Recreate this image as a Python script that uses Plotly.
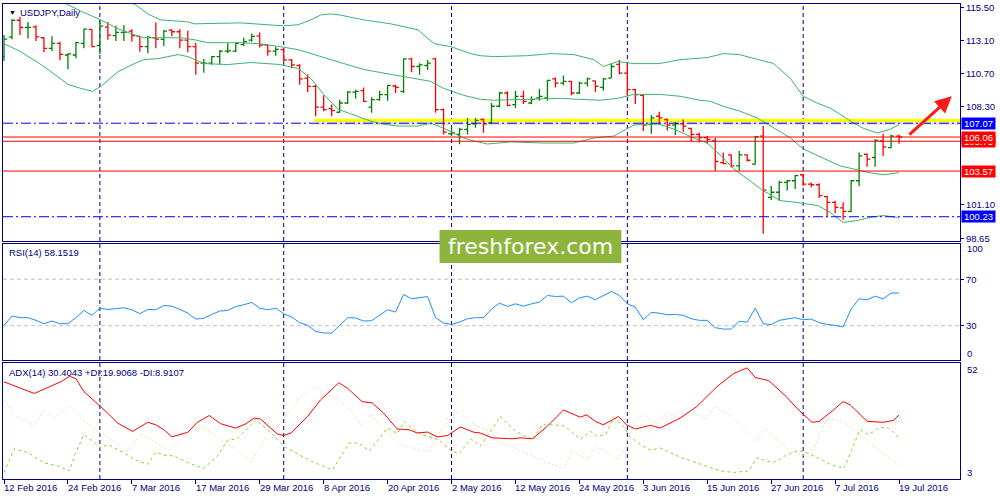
import plotly.graph_objects as go
from plotly.subplots import make_subplots

# daily bars, index 0 = 12 Feb 2016 ... 112 = 19 Jul 2016 (weekdays)
open_ = [111.94, 113.37, 114.60, 114.07, 114.12, 113.32, 112.55, 112.91, 112.06, 112.06,
         112.91, 113.93, 112.74, 114.10, 113.47, 113.71, 113.81, 113.42, 112.67, 113.32,
         113.20, 113.88, 113.76, 113.15, 112.67, 111.46, 111.46, 111.94, 112.35, 112.35,
         112.84, 113.15, 113.44, 112.79, 112.35, 112.45, 111.70, 111.29, 110.37, 109.76,
         108.24, 108.14, 107.87, 108.55, 109.35, 109.45, 108.24, 108.79, 109.16, 109.79,
         109.40, 111.77, 111.22, 111.29, 111.77, 108.07, 106.30, 106.25, 106.62, 107.03,
         107.34, 107.10, 108.31, 109.28, 108.43, 109.04, 108.55, 108.92, 108.92, 110.32,
         110.00, 110.13, 109.28, 110.00, 110.17, 109.69, 110.37, 111.38, 110.73, 109.52,
         109.11, 106.98, 107.58, 107.34, 106.93, 107.03, 106.69, 106.25, 106.01, 105.77,
         104.19, 104.75, 103.95, 104.75, 104.07, 106.13, 101.65, 102.02, 102.74, 102.86,
         103.30, 102.62, 102.57, 101.70, 101.28, 100.87, 100.62, 102.86, 104.80, 104.56,
         105.77, 105.28, 106.13]
high = [113.52, 114.68, 114.85, 114.48, 114.24, 113.34, 113.44, 113.03, 112.18, 113.03,
        114.00, 113.95, 114.60, 114.48, 114.19, 114.24, 113.95, 113.44, 113.47, 114.43,
        113.88, 113.95, 113.95, 113.83, 112.96, 111.77, 111.99, 112.43, 112.91, 112.98,
        113.32, 113.64, 113.71, 112.84, 112.67, 112.55, 111.77, 111.38, 110.66, 109.88,
        109.11, 108.43, 108.79, 109.40, 109.52, 109.69, 108.96, 109.45, 109.88, 109.88,
        111.82, 111.86, 111.46, 111.70, 111.86, 108.14, 106.86, 106.74, 107.46, 107.46,
        107.41, 108.55, 109.35, 109.40, 109.45, 109.45, 109.04, 109.59, 110.25, 110.42,
        110.56, 110.17, 110.13, 110.42, 110.17, 110.37, 111.46, 111.70, 111.46, 109.59,
        109.16, 107.66, 107.90, 107.41, 107.17, 107.34, 106.74, 106.37, 106.13, 106.01,
        104.92, 104.80, 105.04, 104.80, 106.13, 106.86, 102.50, 102.86, 102.91, 103.30,
        103.35, 102.74, 102.67, 101.77, 101.40, 101.28, 102.91, 104.92, 104.85, 105.89,
        106.30, 106.25, 106.25]
low = [111.63, 113.22, 113.52, 113.27, 113.08, 112.26, 112.35, 111.68, 111.02, 111.82,
       112.55, 112.62, 112.14, 113.18, 113.08, 113.08, 113.03, 112.30, 112.18, 112.55,
       112.72, 113.44, 112.55, 112.26, 110.61, 110.76, 111.34, 111.34, 112.18, 112.26,
       112.72, 113.03, 112.60, 112.01, 112.01, 111.53, 111.09, 109.88, 109.35, 107.58,
       107.95, 107.58, 107.83, 108.48, 108.87, 108.63, 107.83, 108.72, 108.72, 109.28,
       109.28, 110.80, 110.61, 110.97, 107.83, 106.25, 106.13, 105.53, 106.25, 106.74,
       106.37, 107.03, 108.24, 108.31, 108.19, 108.48, 108.48, 108.72, 108.72, 109.69,
       109.84, 109.11, 109.21, 109.76, 109.35, 109.45, 110.37, 110.66, 109.04, 108.48,
       106.50, 106.30, 107.03, 106.54, 106.20, 106.45, 105.77, 105.65, 105.57, 103.59,
       104.07, 103.83, 103.59, 104.27, 104.03, 98.99, 101.45, 101.40, 102.14, 102.26,
       102.50, 102.38, 101.60, 100.20, 100.49, 100.00, 100.55, 102.45, 103.88, 103.88,
       104.68, 105.24, 105.57]
close = [113.22, 114.60, 114.07, 114.08, 113.39, 112.55, 112.91, 112.11, 112.14, 112.96,
         113.95, 112.67, 114.17, 113.52, 113.71, 113.73, 113.47, 112.67, 113.35, 113.22,
         113.81, 113.76, 113.15, 112.67, 111.46, 111.47, 111.94, 112.35, 112.36, 112.91,
         113.03, 113.42, 112.79, 112.35, 112.47, 111.70, 111.34, 110.32, 109.76, 108.24,
         108.07, 107.99, 108.55, 109.35, 109.40, 108.67, 108.79, 109.16, 109.84, 109.69,
         111.77, 111.22, 111.34, 111.46, 108.07, 106.42, 106.37, 106.62, 106.98, 107.27,
         107.03, 108.31, 109.28, 108.38, 109.04, 108.67, 108.79, 109.04, 110.20, 110.00,
         110.13, 109.28, 110.00, 110.32, 109.76, 110.32, 111.22, 110.73, 109.52, 109.16,
         106.93, 107.46, 107.46, 106.93, 107.03, 106.86, 106.25, 106.01, 105.89, 104.27,
         104.12, 103.95, 104.75, 104.36, 106.08, 102.18, 102.02, 102.74, 102.86, 103.23,
         102.62, 102.57, 101.77, 101.28, 100.92, 100.62, 102.86, 104.68, 104.44, 105.82,
         105.34, 106.13, 106.06]
bars = list(range(len(close)))

# Bollinger bands (20,2): bar index -> price
bb_up_x = [14, 16.5, 18, 19.6, 23, 23.8, 29.6, 35, 36.8, 38.4, 39.6, 40.9, 42, 45, 48.4,
           51.8, 53.8, 55.9, 58.4, 59.6, 61.3, 65.5, 68.4, 71.3, 73.8, 75, 76.8, 78.8, 82,
           84.6, 88, 90, 92, 94.3, 96.3, 98.4, 100, 101.8, 103.4, 105, 106.3, 107.5, 109.3,
           110.9, 112]
bb_up_y = [116.4, 115.72, 115.06, 114.63, 114.48, 114.34, 114.41, 114.19, 114.27, 114.63,
           114.99, 115.06, 114.99, 114.63, 114.34, 113.90, 112.89, 112.67, 112.16, 112.01,
           111.94, 112.01, 112.16, 112.09, 111.72, 111.22, 111.58, 111.43, 111.43, 111.72,
           111.87, 112.16, 112.09, 111.72, 111.43, 110.34, 109.04, 108.53, 108.17, 107.58,
           107.08, 106.71, 106.35, 106.64, 106.95]
bb_mid_x = [5, 8, 9.6, 12.1, 14.3, 16.3, 17.5, 20.5, 22.1, 23.8, 25.5, 29.6, 31.8, 34.6,
            36.8, 40.9, 45, 47.1, 50, 53.4, 55, 57.5, 59.6, 61.3, 65.5, 69.6, 71.8, 74.6,
            76.8, 78.8, 82, 84.6, 87.1, 88.4, 90, 92.1, 94.3, 96.3, 98.4, 100, 102.5, 104.6,
            106.8, 108.4, 110, 111.3, 112]
bb_mid_y = [116.6, 115.72, 115.28, 114.63, 113.97, 113.54, 113.32, 113.32, 113.32, 113.18,
            112.96, 112.96, 112.89, 112.67, 112.45, 111.72, 111.00, 110.78, 110.49, 110.13,
            109.62, 109.11, 108.82, 108.75, 108.82, 108.89, 108.82, 108.75, 108.89, 109.18,
            109.18, 109.04, 108.75, 108.67, 108.31, 107.95, 107.44, 106.71, 105.99, 105.19,
            104.53, 103.95, 103.66, 103.44, 103.30, 103.37, 103.45]
bb_lo_x = [0, 2.1, 5, 8, 9.6, 11.1, 12.1, 14.3, 16.3, 17.5, 19.3, 21.8, 23, 25, 28, 29.6,
           30.9, 34.6, 36.8, 38.4, 40, 41.8, 44.3, 45.9, 47.5, 49.3, 51.8, 53.4, 55, 57.5,
           58.8, 60.5, 63.4, 67.5, 71.3, 73.8, 76.3, 78, 78.8, 80.5, 82, 83.8, 86.3, 88, 90,
           91.3, 93.4, 95, 97.1, 99.3, 101.8, 103.4, 105, 106.8, 108.4, 110, 111.8, 112]
bb_lo_y = [112.89, 112.30, 111.22, 109.91, 109.62, 109.40, 109.76, 110.85, 111.43, 111.72,
           111.80, 112.09, 111.94, 111.43, 111.36, 111.43, 111.51, 111.36, 111.07, 110.34,
           109.18, 108.09, 107.58, 107.22, 107.00, 106.86, 106.86, 107.08, 106.71, 105.99,
           105.77, 105.55, 105.70, 105.62, 105.62, 105.99, 106.13, 106.64, 106.93, 107.00,
           107.00, 106.64, 105.99, 105.62, 104.53, 103.74, 102.86, 102.14, 101.41, 101.27,
           101.05, 100.54, 99.81, 99.96, 100.18, 100.32, 100.18, 100.10]

# RSI(14), one value per bar
rsi = [30.3, 38.3, 36.9, 36.9, 34.6, 31.7, 34.0, 31.7, 31.7, 36.9,
       43.1, 38.9, 45.1, 44.0, 44.6, 45.4, 43.7, 40.3, 44.0, 43.7,
       47.4, 46.8, 44.0, 40.8, 35.7, 36.4, 39.7, 42.6, 43.1, 46.5,
       48.0, 50.0, 45.1, 43.7, 45.1, 40.3, 37.4, 32.6, 30.3, 25.1,
       23.7, 23.7, 30.3, 36.9, 36.6, 34.0, 34.3, 38.9, 43.7, 41.7,
       56.8, 53.1, 54.0, 55.1, 36.9, 32.3, 31.1, 33.1, 36.0, 36.9,
       36.9, 44.3, 49.4, 46.6, 48.8, 46.8, 48.8, 50.3, 56.0, 55.1,
       55.4, 49.7, 54.0, 55.4, 52.3, 56.0, 59.4, 56.0, 48.8, 46.0,
       35.1, 41.4, 40.8, 39.4, 39.7, 38.9, 36.0, 34.6, 34.6, 28.3,
       27.1, 27.1, 33.7, 33.1, 45.1, 31.7, 30.9, 34.6, 35.7, 36.9,
       35.1, 35.7, 32.6, 31.1, 30.3, 28.9, 44.3, 53.1, 52.3, 55.4,
       53.1, 58.0, 58.15]
rsi_levels = [70, 30]

# ADX(14) with +DI / -DI
adx_x = [0, 1.7, 3.8, 5.9, 7.1, 8.2, 9, 10, 11.1, 12, 13, 14.2, 16.1, 18, 19, 20, 21, 23,
         24.2, 25.7, 27.1, 29, 30.3, 31.3, 32.1, 34.2, 35, 35.9, 38, 39.6, 41.9, 43, 44.8,
         46.1, 47.5, 49.2, 50.7, 51.7, 53, 54.2, 55.5, 57.1, 58.8, 59.6, 61.1, 63.6, 64.6,
         66.1, 68, 70, 72.1, 72.9, 74, 75, 76.9, 77.9, 79, 80.9, 82.1, 84.6, 86.7, 89.2,
         91.3, 93, 94, 95.7, 97.9, 99.2, 101.1, 102, 103.8, 105, 105.9, 108, 110, 111.3, 112]
adx_y = [44.6, 42.5, 39.6, 42.8, 44.6, 47.0, 46.0, 40.4, 36.8, 34.2, 31.1, 26.9, 23.3, 27.2,
         26.1, 24.0, 20.9, 22.9, 27.2, 30.1, 26.6, 24.7, 26.6, 29.0, 28.6, 22.2, 21.5, 22.6,
         29.7, 36.8, 44.2, 41.8, 36.1, 35.5, 31.1, 24.3, 24.0, 22.6, 23.0, 20.9, 21.5, 25.2,
         22.9, 22.6, 20.5, 20.1, 20.5, 20.1, 25.5, 32.5, 29.4, 30.4, 27.6, 26.1, 29.7, 26.1,
         24.3, 25.9, 24.7, 29.0, 34.0, 42.5, 48.2, 50.6, 46.5, 45.1, 38.2, 33.3, 27.2, 27.6,
         32.5, 36.1, 34.7, 27.6, 27.2, 28.0, 30.40]
pdi_x = [0, 1.3, 3, 5, 6.7, 8.2, 8.8, 10, 11.1, 12, 13, 15, 16.3, 18, 19, 20, 21.3, 23, 25,
         26.7, 28, 29.2, 31.5, 32.5, 33.4, 35, 36.3, 38.4, 41.1, 43.2, 44.4, 45.7, 47.1, 48,
         49.2, 50.1, 51.3, 52.3, 53.8, 54.6, 55.9, 56.9, 58.4, 59.6, 60.9, 62.1, 63.8, 65,
         66.3, 67.3, 68.8, 70.2, 72.1, 73.4, 74.2, 75.3, 76.3, 77.5, 78.2, 79.6, 80.9, 82.1,
         84.6, 87.1, 89.6, 91.3, 93.2, 94.2, 96.3, 97.9, 99.4, 100.9, 103.4, 105.1, 105.9,
         107.1, 108.2, 109.6, 110.7, 111.5, 112]
pdi_y = [5.6, 15.8, 14.1, 9.8, 8.4, 6.3, 12.7, 21.9, 19.1, 16.2, 17.6, 14.1, 11.2, 9.1,
         14.4, 13.1, 12.7, 9.8, 7.3, 12.7, 19.5, 20.1, 28.3, 25.5, 22.6, 16.9, 14.4, 10.5,
         6.7, 18.3, 18.3, 14.8, 20.9, 24.7, 22.3, 27.6, 24.0, 21.9, 20.5, 19.1, 15.2, 13.5,
         20.1, 17.0, 23.3, 29.7, 24.0, 21.5, 19.8, 26.1, 26.1, 25.5, 19.8, 23.3, 21.2, 22.0,
         29.3, 25.5, 21.5, 17.6, 15.2, 16.2, 12.2, 9.1, 6.3, 5.6, 6.3, 11.9, 9.8, 13.1, 15.2,
         13.5, 9.1, 7.3, 14.1, 24.0, 21.9, 25.0, 24.7, 22.3, 19.91]
mdi_x = [0, 1.3, 3.8, 5, 6.3, 8.2, 9.6, 11.7, 13.4, 15.5, 17.1, 19.2, 20.5, 22.1, 24.2,
         25.9, 28.4, 30.9, 33, 34.2, 35.9, 37.1, 39.2, 40, 40.9, 43.4, 44.6, 45.9, 47.5,
         49.6, 51.7, 53.2, 54.6, 55.7, 57.1, 58.8, 60.9, 62.1, 63.8, 65.9, 68, 70.1, 71.1,
         72.1, 73.2, 74, 75.5, 76.9, 77.9, 78.8, 80, 81.3, 83, 84.6, 86.3, 87.9, 88.9, 91.3,
         94, 95.3, 97.1, 98.8, 100.9, 103, 105, 107.1, 109.6, 112]
mdi_y = [36.8, 30.4, 25.7, 32.5, 29.0, 34.2, 29.0, 23.3, 19.8, 14.8, 22.3, 18.3, 14.8, 19.8,
         26.1, 22.6, 16.9, 10.1, 21.9, 24.7, 32.5, 38.2, 42.5, 38.2, 38.9, 32.5, 26.1, 30.4,
         24.0, 17.6, 15.5, 14.4, 23.3, 29.7, 31.8, 26.1, 23.3, 18.3, 16.2, 13.1, 9.8, 7.3,
         14.8, 12.7, 11.5, 16.9, 14.1, 11.2, 18.3, 26.1, 31.1, 26.6, 31.1, 29.0, 31.5, 28.3,
         34.0, 29.0, 19.1, 24.7, 18.3, 14.4, 12.2, 29.0, 27.6, 21.9, 14.8, 8.91]

# drawn levels
blue_levels = [107.07, 100.23]
red_levels = [106.06, 105.75, 103.57]
zone_lo, zone_hi, zone_start = 107.15, 107.40, 38.75
arrow_from = (113.1, 106.13)
arrow_to = (118.6, 109.04)

price_ticks = [115.50, 113.10, 110.70, 108.30, 101.10, 98.65]
date_idx = [0, 8, 16, 24, 32, 40, 48, 56, 64, 72, 80, 88, 96, 104, 112]
date_labels = ["12 Feb 2016", "24 Feb 2016", "7 Mar 2016", "17 Mar 2016", "29 Mar 2016",
               "8 Apr 2016", "20 Apr 2016", "2 May 2016", "12 May 2016", "24 May 2016",
               "3 Jun 2016", "15 Jun 2016", "27 Jun 2016", "7 Jul 2016", "19 Jul 2016"]
month_starts = [12, 35, 56, 78, 100]

NAVY = "#000080"
FONT = "Liberation Sans, Arial, sans-serif"
W, H = 1000, 500
ML, MR, MT, MB = 2, 40, 2, 21
XR = [-0.125, 119.625]


def px(x):
    return (x - ML) / (W - ML - MR)


def py(y):
    return (H - MB - y) / (H - MT - MB)


fig = make_subplots(rows=3, cols=1, shared_xaxes=True, vertical_spacing=0.005)

fig.add_trace(go.Ohlc(x=bars, open=open_, high=high, low=low, close=close,
                      increasing=dict(line=dict(color="#008000", width=1.3)),
                      decreasing=dict(line=dict(color="#ff0000", width=1.3)),
                      tickwidth=0.4, hoverinfo="skip"), row=1, col=1)
for bx, by in [(bb_up_x, bb_up_y), (bb_mid_x, bb_mid_y), (bb_lo_x, bb_lo_y)]:
    fig.add_trace(go.Scatter(x=bx, y=by, mode="lines",
                             line=dict(color="#3cb371", width=1)), row=1, col=1)

fig.add_trace(go.Scatter(x=bars, y=rsi, mode="lines",
                         line=dict(color="#1e90ff", width=1)), row=2, col=1)

fig.add_trace(go.Scatter(x=mdi_x, y=mdi_y, mode="lines",
                         line=dict(color="#f5deb3", width=1, dash="2px,2px")), row=3, col=1)
fig.add_trace(go.Scatter(x=pdi_x, y=pdi_y, mode="lines",
                         line=dict(color="#9acd32", width=1, dash="3px,3px")), row=3, col=1)
fig.add_trace(go.Scatter(x=adx_x, y=adx_y, mode="lines",
                         line=dict(color="#ff0000", width=1)), row=3, col=1)

shapes = []
# support / resistance zone with its shadow
shapes.append(dict(type="rect", xref="x", yref="y", x0=zone_start + 0.3, x1=XR[1],
                   y0=zone_lo - 0.22, y1=zone_lo, fillcolor="rgba(150,150,150,0.25)",
                   line=dict(width=0), layer="below"))
shapes.append(dict(type="rect", xref="x", yref="y", x0=zone_start, x1=XR[1],
                   y0=zone_lo, y1=zone_hi, fillcolor="#ffff00",
                   line=dict(width=0), layer="below"))
for lv in blue_levels:
    shapes.append(dict(type="line", xref="x domain", yref="y", x0=0, x1=1, y0=lv, y1=lv,
                       line=dict(color="#0000ff", width=1, dash="10px,3px,2px,3px")))
for lv in red_levels:
    shapes.append(dict(type="line", xref="x domain", yref="y", x0=0, x1=1, y0=lv, y1=lv,
                       line=dict(color="#ff0000", width=1)))
for lv in rsi_levels:
    shapes.append(dict(type="line", xref="x2 domain", yref="y2", x0=0, x1=1, y0=lv, y1=lv,
                       line=dict(color="#c0c0c0", width=1, dash="4px,3px"), layer="below"))
for m in month_starts:
    shapes.append(dict(type="line", xref="x", yref="paper", x0=m, x1=m, y0=0, y1=1,
                       line=dict(color=NAVY, width=1, dash="4px,3px"), layer="below"))
# watermark box
shapes.append(dict(type="rect", xref="paper", yref="paper", x0=px(439), x1=px(621),
                   y0=py(262), y1=py(229), fillcolor="#8db53c", line=dict(width=0),
                   layer="above"))

ann = []


def label(x, y, text, size=9.5, color=NAVY, anchor="left", family=FONT):
    ann.append(dict(xref="paper", yref="paper", x=x, y=y, text=text, showarrow=False,
                    xanchor=anchor, yanchor="middle",
                    font=dict(family=family, size=size, color=color)))


label(px(6), py(11), "▼", size=7, color="#000000")
label(px(17), py(11), "USDJPY,Daily")
label(px(6), py(252), "RSI(14) 58.1519")
label(px(6), py(372), "ADX(14) 30.4043 +DI:19.9068 -DI:8.9107")
label(px(965), py(248), "100")
label(px(965), py(353), "0")
label(px(965), py(369), "52")
label(px(965), py(472), "3")
label(px(530), py(246), "freshforex.com", size=22, color="#ffffff", anchor="center",
      family="DejaVu Sans, Verdana, sans-serif")

# price tags on the right edge (105.75 sits mostly hidden under 106.06, as in MT4)
for lv, col in [(107.07, "#0000ff"), (105.75, "#ff0000"), (106.06, "#ff0000"),
                (103.57, "#ff0000"), (100.23, "#0000ff")]:
    ann.append(dict(xref="paper", yref="y", x=1, y=lv, xshift=1, text=f"{lv:.2f}",
                    showarrow=False, xanchor="left", yanchor="middle", bgcolor=col,
                    width=33, height=11, borderpad=0,
                    font=dict(family=FONT, size=9.5, color="#ffffff")))

for i, t in zip(date_idx, date_labels):
    ann.append(dict(xref="x3", yref="paper", x=i, y=0, xshift=-2, yshift=-1, text=t,
                    showarrow=False, xanchor="left", yanchor="top",
                    font=dict(family=FONT, size=9.5, color=NAVY)))

ann.append(dict(xref="x", yref="y", axref="x", ayref="y", x=arrow_to[0], y=arrow_to[1],
                ax=arrow_from[0], ay=arrow_from[1], text="", showarrow=True,
                arrowhead=2, arrowsize=1.1, arrowwidth=3, arrowcolor="#ff1a1a"))

axis_common = dict(showline=True, mirror=True, linecolor=NAVY, linewidth=1,
                   showgrid=False, zeroline=False)
fig.update_xaxes(range=XR, showticklabels=False, ticks="", **axis_common)
fig.update_xaxes(rangeslider_visible=False)
fig.update_xaxes(ticks="outside", ticklen=4, tickcolor=NAVY, tickvals=date_idx, row=3, col=1)
fig.update_yaxes(side="right", ticks="outside", ticklen=3, tickcolor=NAVY,
                 tickfont=dict(family=FONT, size=9.5, color=NAVY), **axis_common)

fig.update_layout(
    width=W, height=H,
    margin=dict(l=ML, r=MR, t=MT, b=MB),
    paper_bgcolor="#ffffff", plot_bgcolor="#ffffff",
    showlegend=False, hovermode=False,
    yaxis=dict(domain=[py(239.5), 1], range=[98.49, 115.79],
               tickvals=price_ticks, ticktext=[f"{v:.2f}" for v in price_ticks]),
    yaxis2=dict(domain=[py(359.5), py(243.3)], range=[0.5, 100], tickvals=rsi_levels),
    yaxis3=dict(domain=[0, py(362.3)], range=[2.8, 52.8], tickvals=[]),
    shapes=shapes, annotations=ann,
)

fig.write_html("out.html", config={"displayModeBar": False},
               post_script="document.body.style.margin='0';")
